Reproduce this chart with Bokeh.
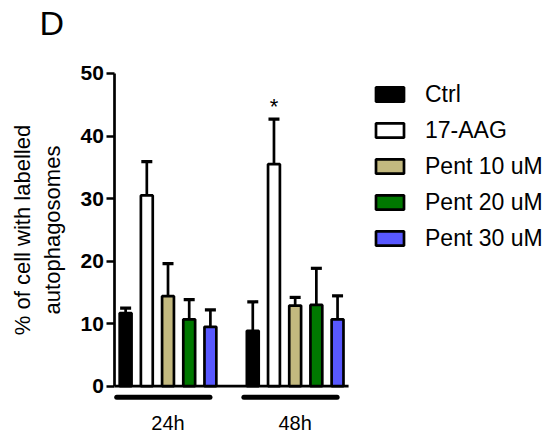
from bokeh.plotting import figure
from bokeh.models import (ColumnDataSource, Range1d, FixedTicker, Whisker, TeeHead,
                          Legend, LegendItem)
from bokeh.core.properties import value
from bokeh.embed import file_html
from bokeh.resources import INLINE

# ---- data ----
categories = ["Ctrl", "17-AAG", "Pent 10 uM", "Pent 20 uM", "Pent 30 uM"]
times = ["24h", "48h"]
mean_24h = [11.7, 30.5, 14.4, 10.7, 9.5]
sem_24h = [0.8, 5.4, 5.2, 3.15, 2.7]
mean_48h = [8.85, 35.5, 12.9, 13.0, 10.7]
sem_48h = [4.65, 7.2, 1.3, 5.85, 3.75]
significant = [("48h", "17-AAG", "*")]
y_ticks = [0, 10, 20, 30, 40, 50]
y_label = "% of cell with labelled\nautophagosomes"
panel_letter = "D"

colors = ["#000000", "#FFFFFF", "#C3B97F", "#007800", "#5858FF"]
FONT = "Liberation Sans"

means = {"24h": mean_24h, "48h": mean_48h}
sems = {"24h": sem_24h, "48h": sem_48h}
n = len(categories)
group_offset = {t: gi * (n + 1) for gi, t in enumerate(times)}
x_start = -0.51
x_axis_end = group_offset[times[-1]] + n - 1 + 0.52

p = figure(width=560, height=434, output_backend="svg", toolbar_location=None,
           x_range=Range1d(-5.904, 20.52), y_range=Range1d(-7.72, 61.67),
           x_axis_location=None, min_border=0)
p.outline_line_color = None
p.xgrid.visible = False
p.ygrid.visible = False
p.background_fill_color = "white"
p.border_fill_color = "white"

# panel letter
p.text(x=[-4.064], y=[58.0], text=[panel_letter], text_align="left",
       text_baseline="alphabetic", text_font=value(FONT), text_font_size="34px",
       text_color="black")

# baseline (x axis line)
p.segment(x0=[x_start], y0=[0], x1=[x_axis_end], y1=[0], line_color="black", line_width=2.7)

items = []
for i, cat in enumerate(categories):
    xs = [group_offset[t] + i for t in times]
    tops = [means[t][i] for t in times]
    ups = [means[t][i] + sems[t][i] for t in times]
    src = ColumnDataSource(dict(x=xs, top=tops, upper=ups))
    w = Whisker(source=src, base="x", lower="top", upper="upper",
                line_width=2.7, line_color="black", lower_head=None,
                upper_head=TeeHead(size=11, line_width=3.2, line_color="black"),
                level="glyph")
    p.add_layout(w)
    r = p.vbar(x="x", top="top", bottom=0, width=0.56, source=src,
               fill_color=colors[i], line_color="black", line_width=2.7)
    items.append(LegendItem(label=cat, renderers=[r]))

# significance marks
for t, cat, mark in significant:
    i = categories.index(cat)
    p.text(x=[group_offset[t] + i], y=[means[t][i] + sems[t][i]], text=[mark],
           text_align="center", text_baseline="alphabetic", y_offset=-13,
           text_font=value(FONT), text_font_size="22px", text_color="black")

# group bars and labels
gx0 = [group_offset[t] - 0.42 for t in times]
gx1 = [group_offset[t] + n - 1 - 0.02 for t in times]
p.segment(x0=gx0, y0=[-1.76] * len(times), x1=gx1, y1=[-1.76] * len(times),
          line_color="black", line_width=5, line_cap="round")
p.text(x=[group_offset[t] + (n - 1) / 2 for t in times], y=[-5.9] * len(times),
       text=times, text_align="center", text_baseline="alphabetic",
       text_font=value(FONT), text_font_size="20px", text_color="black")

# y axis
ax = p.yaxis[0]
ax.fixed_location = x_start
ax.ticker = FixedTicker(ticks=y_ticks)
ax.bounds = (0, 50)
ax.axis_line_width = 2.7
ax.major_tick_line_width = 2.7
ax.major_tick_out = 8
ax.major_tick_in = 0
ax.minor_tick_line_color = None
ax.major_label_text_font = FONT
ax.major_label_text_font_size = "21px"
ax.major_label_text_font_style = "bold"
ax.major_label_text_color = "black"
ax.major_label_standoff = 3
ax.axis_label = y_label
ax.axis_label_text_font = FONT
ax.axis_label_text_font_size = "22px"
ax.axis_label_text_font_style = "normal"
ax.axis_label_text_color = "black"
ax.axis_label_standoff = 12

legend = Legend(items=items, location=(372, 178), glyph_width=35, glyph_height=18,
                label_height=36, spacing=0, label_standoff=18, padding=0, margin=0,
                label_text_font=FONT, label_text_font_size="23px", label_text_color="black",
                border_line_color=None, background_fill_alpha=0)
p.add_layout(legend)

open("out.html", "w").write(file_html(p, INLINE))
